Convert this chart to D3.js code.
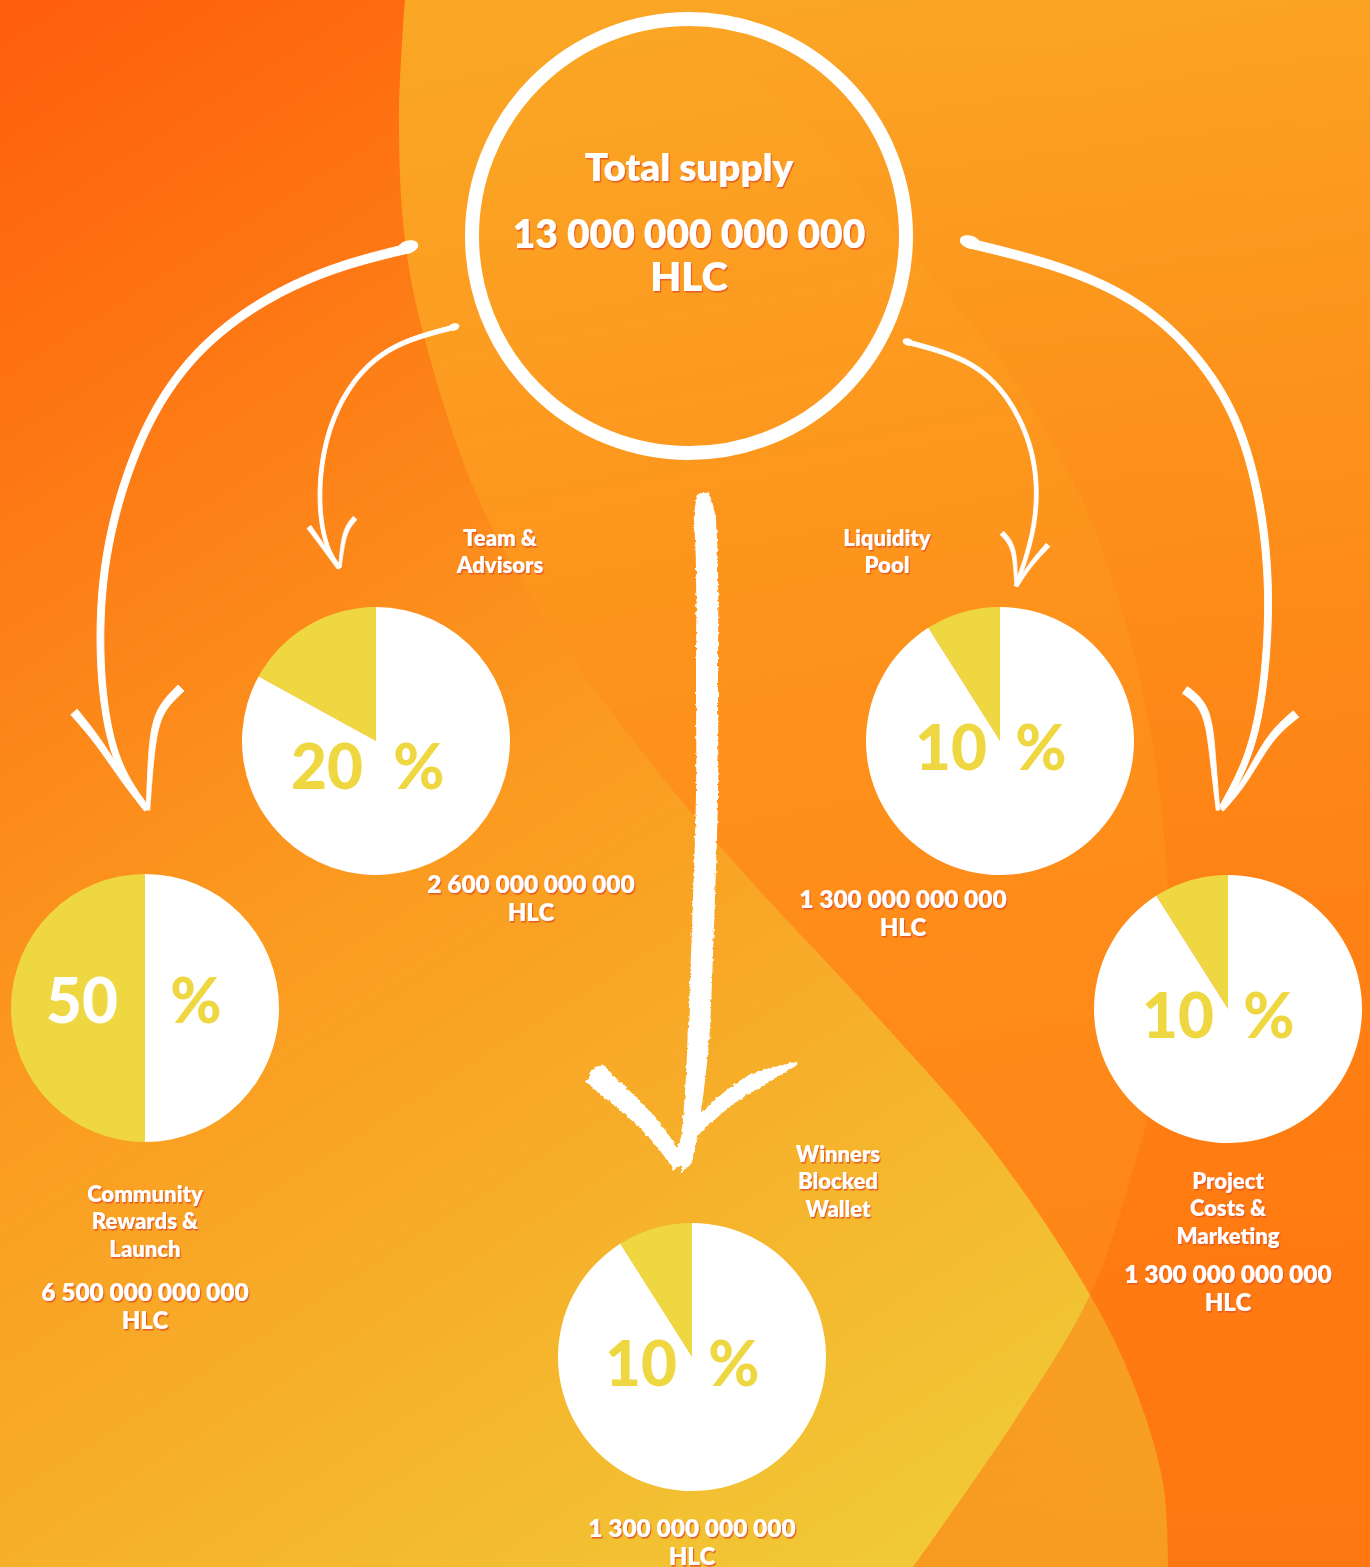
<!DOCTYPE html>
<html><head><meta charset="utf-8">
<script src="https://cdn.jsdelivr.net/npm/d3@7"></script>
<style>html,body{margin:0;padding:0;overflow:hidden;background:#FB9A20}svg{display:block}</style>
</head><body><svg id="c" width="1370" height="1567"></svg>
<script>
// ---------------- data ----------------
const totalLabel = "Total supply";
const totalSupply = "13 000 000 000 000";
const unit = "HLC";
const categories = [["Community","Rewards &","Launch"],["Team &","Advisors"],["Liquidity","Pool"],["Project","Costs &","Marketing"],["Winners","Blocked","Wallet"]];
const percents = [50, 20, 10, 10, 10];
const amounts = ["6 500 000 000 000","2 600 000 000 000","1 300 000 000 000","1 300 000 000 000","1 300 000 000 000"];
const wedgeShares = [0.50, 0.17, 0.09, 0.09, 0.09];   // visible yellow wedge of each pie

// ---------------- layout ----------------
const W = 1370, H = 1567;
const layout = [
  {cx:145,  cy:1008, label:[145,1202], amount:[145,1301], pct:[-63,51,15], numWhite:true},
  {cx:376,  cy:741,  label:[500,546],  amount:[531,893],  pct:[-49,43,48]},
  {cx:1000, cy:741,  label:[887,546],  amount:[903,908],  pct:[-49,41,29]},
  {cx:1228, cy:1009, label:[1228,1189],amount:[1228,1283],pct:[-50,41,29]},
  {cx:692,  cy:1357, label:[838,1162], amount:[692,1537], pct:[-51,42,29]}
];
const R = 134;
const YEL = "#EFD742";
const FONT = "Lato, 'Open Sans', sans-serif";

const svg = d3.select("#c");
const defs = svg.append("defs");

function lin(id, x1,y1,x2,y2, stops){
  const g = defs.append("linearGradient").attr("id",id).attr("gradientUnits","userSpaceOnUse")
    .attr("x1",x1).attr("y1",y1).attr("x2",x2).attr("y2",y2);
  stops.forEach(s=>g.append("stop").attr("offset",s[0]).attr("stop-color",s[1]).attr("stop-opacity",s[2]===undefined?1:s[2]));
}
lin("bg",0,0,1000,1567,[[0,"#FF5D0B"],[0.5,"#FB9A20"],[1,"#F0CC38"]]);
lin("g1",0,0,300,1567,[[0,"#FAAA27"],[0.4,"#FD961D"],[0.7,"#FE8B19"],[1,"#FF8416"]]);
lin("g2",0,0,0,1567,[[0,"#FF6A0A",0],[0.3,"#FF6A0A",0.12],[1,"#FF6A0A",0.5]]);

const rough = defs.append("filter").attr("id","rough").attr("x","-20%").attr("y","-5%").attr("width","140%").attr("height","110%");
rough.append("feTurbulence").attr("type","fractalNoise").attr("baseFrequency","0.25").attr("numOctaves",2).attr("seed",4).attr("result","n");
rough.append("feDisplacementMap").attr("in","SourceGraphic").attr("in2","n").attr("scale",3.5).attr("xChannelSelector","R").attr("yChannelSelector","G");

const ts = defs.append("filter").attr("id","ts").attr("x","-10%").attr("y","-20%").attr("width","120%").attr("height","150%");
ts.append("feDropShadow").attr("dx",1.2).attr("dy",1.6).attr("stdDeviation",0.4).attr("flood-color","#E4571C").attr("flood-opacity",0.9);

// ---------------- background ----------------
const curve = d3.line().curve(d3.curveCatmullRom.alpha(0.5));
const smooth = d3.line().curve(d3.curveNatural);
svg.append("rect").attr("width",W).attr("height",H).attr("fill","url(#bg)");
const C1 = [[405,0],[399,120],[405,240],[425,340],[479,500],[560,641],[693,815],[760,891],[880,1020],[993,1150],[1090,1295],[1133,1383],[1163,1483],[1168,1567]];
const C2 = [[640,-10],[800,120],[916,260],[1000,360],[1082,500],[1140,680],[1168,900],[1155,1080],[1130,1180],[1090,1295],[1017,1417],[913,1567]];
svg.append("path").attr("d", curve(C1) + `L${W},${H}L${W},0Z`).attr("fill","url(#g1)");
svg.append("path").attr("d", curve(C2) + `L${W},${H}L${W},-10Z`).attr("fill","url(#g2)");

// ---------------- tapered hand-drawn strokes ----------------
function tapered(pts, wf, n=120){
  const tmp = svg.append("path").attr("d", smooth(pts)).attr("fill","none");
  const node = tmp.node(), L = node.getTotalLength();
  const left=[], right=[];
  for(let i=0;i<=n;i++){
    const s=L*i/n, p=node.getPointAtLength(s);
    const a=node.getPointAtLength(Math.max(0,s-1)), b=node.getPointAtLength(Math.min(L,s+1));
    const dx=b.x-a.x, dy=b.y-a.y, l=Math.hypot(dx,dy)||1;
    const nx=-dy/l, ny=dx/l, w=wf(i/n)/2;
    left.push([p.x+nx*w,p.y+ny*w]); right.push([p.x-nx*w,p.y-ny*w]);
  }
  tmp.remove();
  return d3.line().curve(d3.curveLinearClosed)(left.concat(right.reverse()));
}
const arrows = svg.append("g").attr("fill","#fff").attr("stroke","#fff").attr("stroke-width",1).attr("stroke-linejoin","round");
function drawArrow(shaft, barbs, ws, wb, blob){
  arrows.append("path").attr("d", tapered(shaft, ws));
  barbs.forEach(b=>arrows.append("path").attr("d", tapered(b, wb)));
  if(blob) arrows.append("ellipse").attr("cx",blob[0]).attr("cy",blob[1]).attr("rx",blob[2]).attr("ry",blob[3])
    .attr("transform",`rotate(${blob[4]},${blob[0]},${blob[1]})`);
}
// big left
drawArrow([[410,248],[340,267],[270,298],[205,346],[155,412],[121,495],[103,585],[102,680],[117,758],[146,808]],
  [[[74,712],[98,742],[124,780],[146,810]],[[181,688],[161,712],[152,750],[148,810]]],
  t=>9-3*t, t=>8.5-5*t, [408,247,10,6,-15]);
// big right
drawArrow([[968,243],[1060,268],[1140,306],[1200,362],[1240,432],[1262,520],[1268,612],[1261,700],[1245,762],[1222,808]],
  [[[1185,690],[1205,713],[1213,760],[1218,810]],[[1296,714],[1270,740],[1245,780],[1222,810]]],
  t=>9-3*t, t=>8.5-5*t, [970,242,10,6,15]);
// small left
drawArrow([[455,327],[395,347],[352,385],[327,440],[320,500],[327,545],[340,568]],
  [[[309,527],[322,545],[338,568]],[[355,518],[345,535],[340,567]]],
  t=>4.5-1*t, t=>5-2.5*t, [454,327,5,3,-15]);
// small right
drawArrow([[907,342],[962,360],[1003,393],[1030,447],[1036,504],[1028,550],[1016,586]],
  [[[1002,533],[1013,551],[1016,586]],[[1048,545],[1030,566],[1017,586]]],
  t=>4.5-1*t, t=>5-2.5*t, [908,342,5,3,15]);

// brush arrow (center)
const brush = svg.append("g").attr("fill","#fff").attr("filter","url(#rough)");
brush.append("path").attr("d", tapered([[703,493],[707,569],[707,680],[707,792],[703,926],[697,1060],[687,1150],[681,1166]], t=>t<0.03?12+300*t:22-8*Math.max(0,t-0.8)*5));
brush.append("path").attr("d", tapered([[594,1073],[615,1092],[640,1115],[662,1140],[680,1166]], t=>24-10*t));
brush.append("path").attr("d", tapered([[798,1063],[773,1073],[740,1090],[707,1117],[687,1140],[681,1164]], t=>t<0.3?3+50*t:18-6*t));
brush.append("circle").attr("cx",600).attr("cy",1077).attr("r",11);

// ---------------- central circle ----------------
svg.append("circle").attr("cx",689).attr("cy",236).attr("r",217).attr("fill","none").attr("stroke","#fff").attr("stroke-width",14);
const head = svg.append("g").attr("fill","#fff").attr("font-family",FONT).attr("font-weight",800).attr("text-anchor","middle").attr("filter","url(#ts)");
head.append("text").attr("x",689).attr("y",181).attr("font-size",38.5).text(totalLabel);
head.append("text").attr("x",689).attr("y",248).attr("font-size",39).text(totalSupply);
head.append("text").attr("x",689).attr("y",291).attr("font-size",40).text(unit);

// ---------------- pies ----------------
const arc = d3.arc().innerRadius(0).outerRadius(R);
const pies = svg.append("g");
percents.forEach((p,i)=>{
  const L = layout[i], f = wedgeShares[i];
  const pie = d3.pie().sort(null).value(d=>d.v).startAngle(-f*2*Math.PI).endAngle(2*Math.PI - f*2*Math.PI);
  const g = pies.append("g").attr("transform",`translate(${L.cx},${L.cy})`);
  g.selectAll("path").data(pie([{v:f,c:YEL},{v:1-f,c:"#fff"}])).join("path")
    .attr("d",arc).attr("fill",d=>d.data.c);
  g.append("text").attr("x",L.pct[0]).attr("y",L.pct[2]).attr("text-anchor","middle")
    .attr("font-family",FONT).attr("font-weight",900).attr("font-size",62)
    .attr("fill",L.numWhite?"#fff":YEL).text(p);
  g.append("text").attr("x",L.pct[1]).attr("y",L.pct[2]).attr("text-anchor","middle")
    .attr("font-family",FONT).attr("font-weight",900).attr("font-size",62)
    .attr("fill",YEL).text("%");
});

// ---------------- labels ----------------
const labels = svg.append("g").attr("fill","#fff").attr("font-family",FONT).attr("font-weight",800).attr("text-anchor","middle").attr("filter","url(#ts)");
categories.forEach((lines,i)=>{
  const L = layout[i];
  lines.forEach((s,j)=>labels.append("text").attr("x",L.label[0]).attr("y",L.label[1]+j*27.3).attr("font-size",22).text(s));
  labels.append("text").attr("x",L.amount[0]).attr("y",L.amount[1]).attr("font-size",24.5).text(amounts[i]);
  labels.append("text").attr("x",L.amount[0]).attr("y",L.amount[1]+27.5).attr("font-size",24).text(unit);
});
</script></body></html>
